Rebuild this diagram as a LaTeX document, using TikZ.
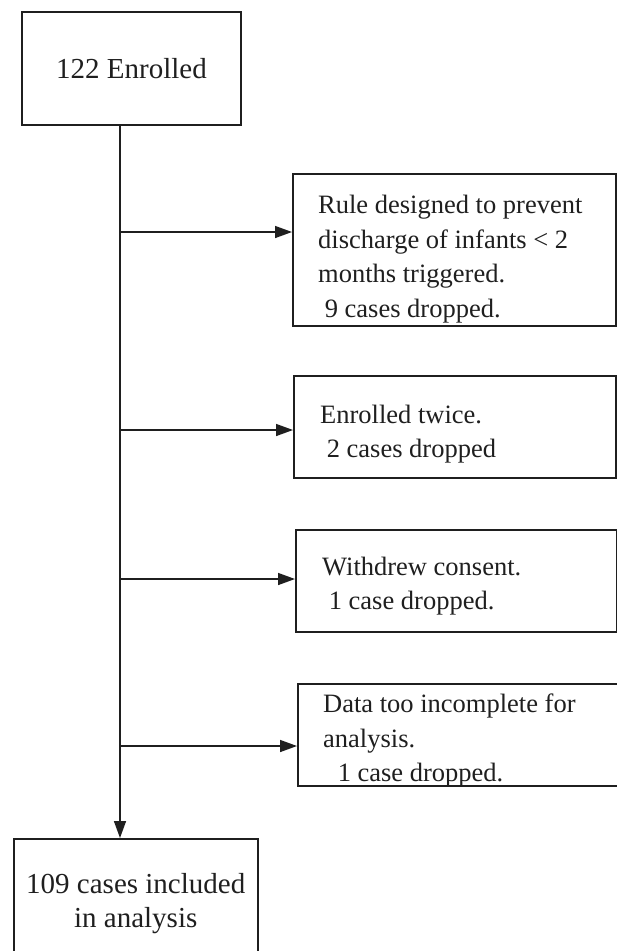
\documentclass[tikz,border=0pt]{standalone}
\usepackage{fontspec}
\setmainfont{Liberation Serif}
\usetikzlibrary{arrows.meta, positioning}
\colorlet{inkcolor}{black!88}

\begin{document}
\begin{tikzpicture}[x=1pt, y=-1pt,
    flowbox/.style={draw=inkcolor, line width=1.5pt, inner sep=0pt, text=inkcolor},
    sidebox/.style={flowbox, anchor=north west, minimum height=102pt},
    sidetext/.style={anchor=north west, inner sep=0pt, align=left, text=inkcolor,
      font=\fontsize{26.5}{34.5}\selectfont},
    flowarrow/.style={draw=inkcolor, line width=1.5pt, -{Triangle[length=17pt,width=12pt]}}]
  \useasboundingbox (0,0) rectangle (617,951);
  \clip (0,0) rectangle (617,951);

  % Start and end
  \node[flowbox, minimum width=219pt, minimum height=113pt,
    font=\fontsize{29}{34}\selectfont] (enrolled) at (131.5,68.5) {122 Enrolled};
  \node[flowbox, anchor=north west, minimum width=244pt, minimum height=130pt,
    align=center, font=\fontsize{29}{34}\selectfont] (included) at (13,838)
    {109 cases included\\in analysis};

  % Exclusions
  \node[sidebox, minimum width=323pt, minimum height=152pt] (rule) at (292,173) {};
  \node[sidetext] (rule-txt) at (318,195) {Rule designed to prevent\\discharge of infants < 2\\months triggered.\\\hspace*{.25em}9 cases dropped.};

  \node[sidebox, minimum width=322pt] (twice) at (293,375) {};
  \node[sidetext] (twice-txt) at (320,404.8) {Enrolled twice.\\\hspace*{.25em}2 cases dropped};

  \node[sidebox, minimum width=321pt] (consent) at (295,529) {};
  \node[sidetext] (consent-txt) at (322,556.8) {Withdrew consent.\\\hspace*{.25em}1 case dropped.};

  \node[sidebox, minimum width=340pt] (incomplete) at (297,683) {};
  \node[sidetext] (incomplete-txt) at (323,693.8) {Data too incomplete for\\analysis.\\\hspace*{.55em}1 case dropped.};

  % Connecting arrows
  \coordinate (trunk) at (120,0);
  \draw[flowarrow] (trunk |- enrolled.south) -- (trunk |- included.north);
  \coordinate (fork-rule) at (120,232);
  \coordinate (fork-twice) at (120,430);
  \coordinate (fork-consent) at (120,579);
  \coordinate (fork-incomplete) at (120,746);
  \foreach \b in {rule, twice, consent, incomplete}
    \draw[flowarrow] (fork-\b) -- (fork-\b -| \b.west);
\end{tikzpicture}
\end{document}
